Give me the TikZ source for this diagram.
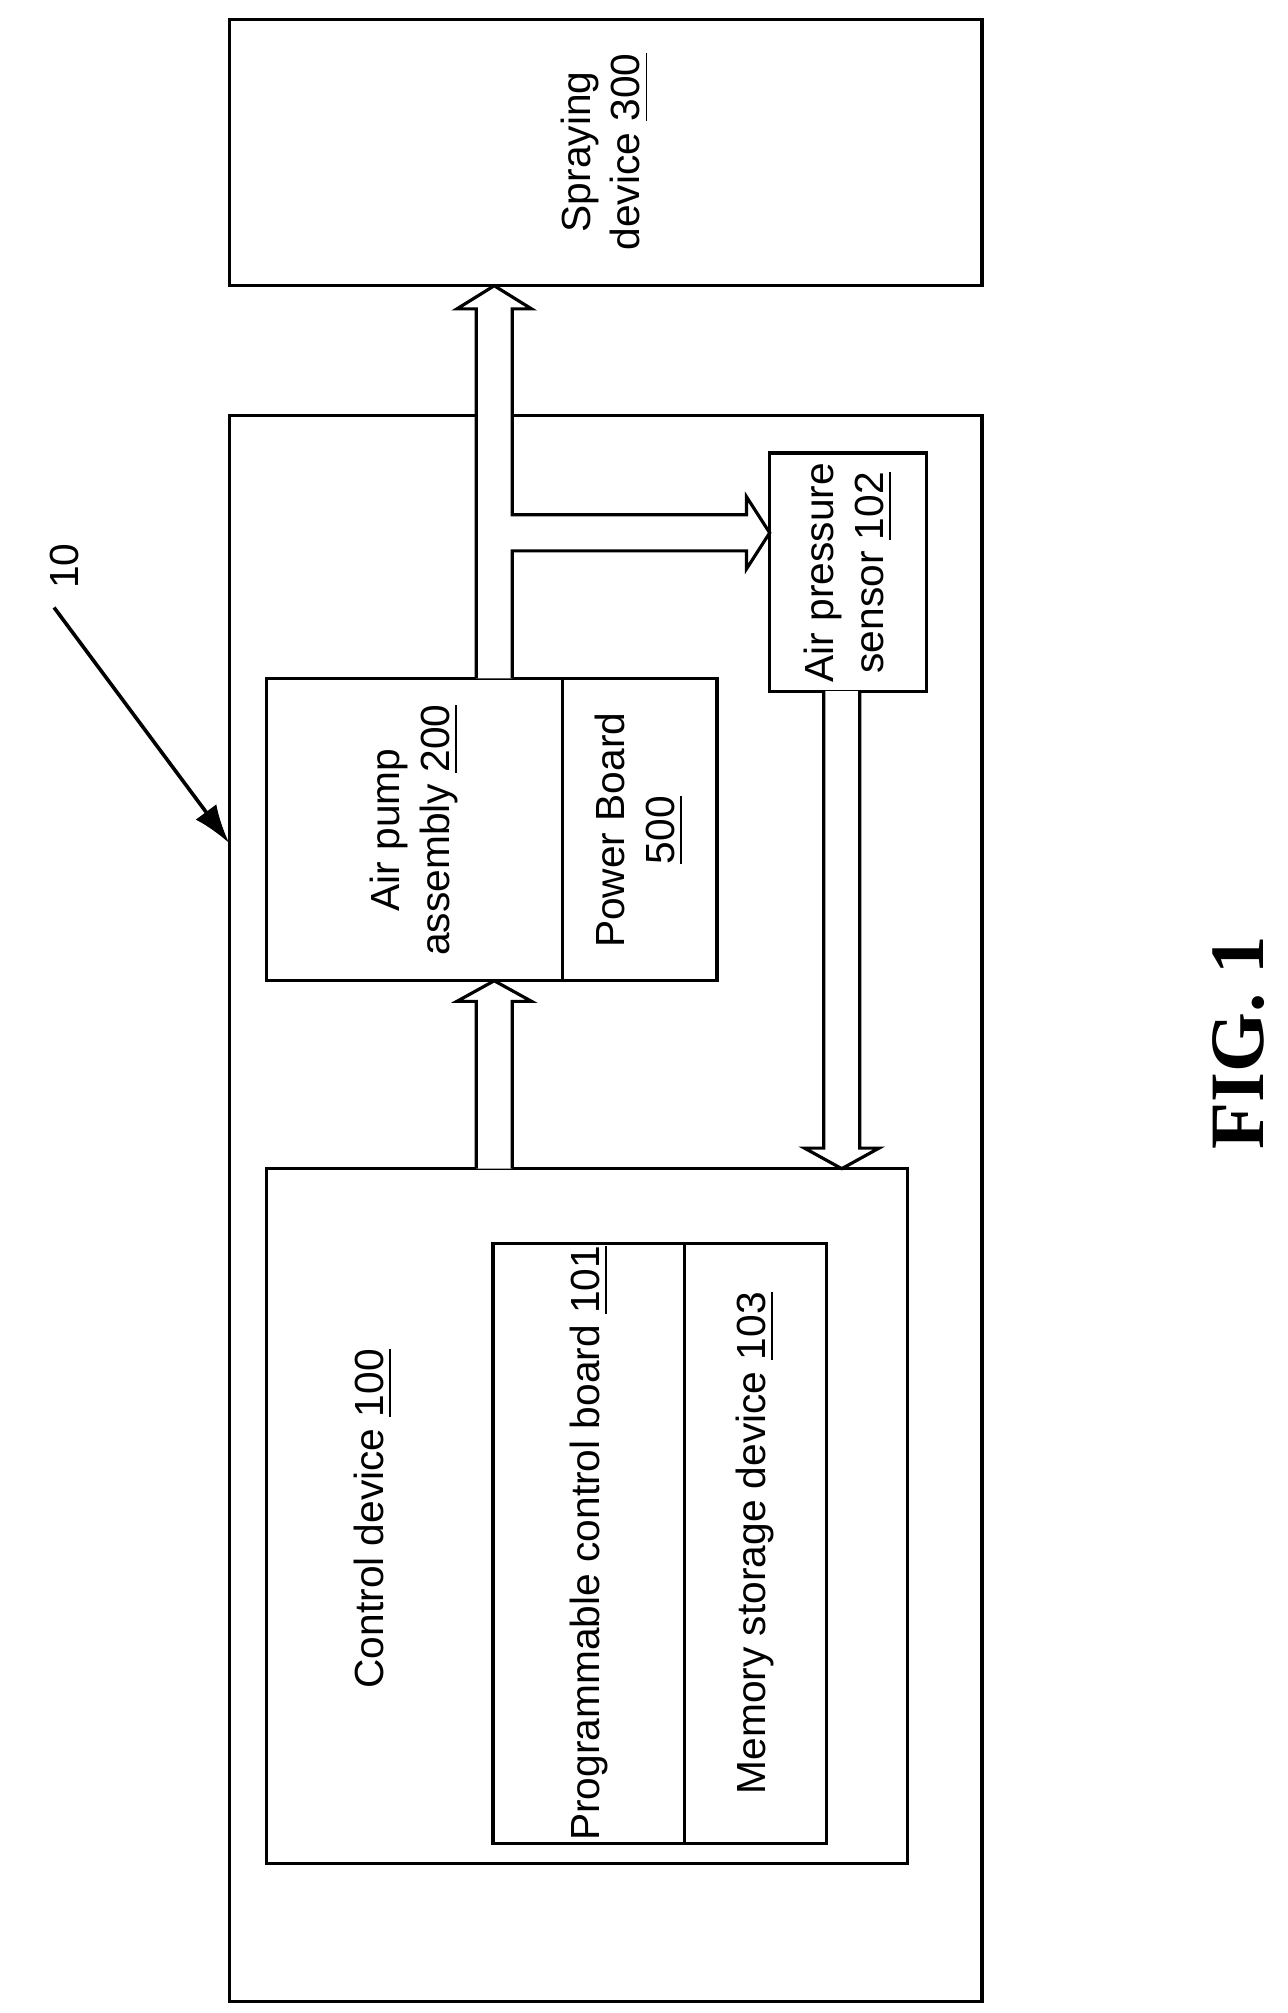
\documentclass[tikz,border=0pt]{standalone}
\usepackage{fontspec}
\usetikzlibrary{arrows.meta}
\setmainfont{Liberation Sans}
\newfontfamily\figfont{Liberation Serif}
\begin{document}
\begin{tikzpicture}[x=0.1mm,y=-0.1mm,line width=0.5pt,
  lbl/.style={rotate=90,align=center,font=\fontsize{9}{11}\selectfont},
  blk/.style={draw=black,fill=white,line width=0.7pt,line join=miter}]
\useasboundingbox (0,0) rectangle (1000,1564);
% boxes
\draw[line width=0.7pt] (178,15) rectangle (763,222);
\node[lbl] (spray) at (470,118) {Spraying\\device \underline{300}};
\draw[line width=0.7pt] (178,323) rectangle (763,1555);
\draw[line width=0.7pt] (207,527) rectangle (437,762);
\node[lbl] (pump) at (322,645) {Air pump\\assembly \underline{200}};
\draw[line width=0.7pt] (437,527) rectangle (557,762);
\node[lbl] (power) at (497,645) {Power Board\\\underline{500}};
\draw[line width=0.7pt] (598,352) rectangle (720,537);
\node[lbl] (sensor) at (659,445) {Air pressure\\sensor \underline{102}};
\draw[line width=0.7pt] (207,908) rectangle (705,1448);
\node[lbl] (ctrl) at (290,1180) {Control device \underline{100}};
\draw[line width=0.7pt] (383,966) rectangle (642,1432);
\draw[line width=0.7pt] (532,966) -- (532,1432);
\node[lbl] (pcb) at (458,1199) {Programmable control board \underline{101}};
\node[lbl] (mem) at (587,1199) {Memory storage device \underline{103}};
% block arrows
\draw[blk] (370,527) -- (370,240) -- (355,240) -- (384,222) -- (413,240) -- (398,240)
  -- (398,400) -- (580,400) -- (580,386) -- (598,414) -- (580,442) -- (580,428)
  -- (398,428) -- (398,527);
\draw[blk] (370,908) -- (370,778) -- (355,778) -- (384,762) -- (413,778) -- (398,778) -- (398,908);
\draw[blk] (640,537) -- (640,892) -- (625,892) -- (654,908) -- (683,892) -- (668,892) -- (668,537);
% label 10
\node[font=\fontsize{9}{11}\selectfont,rotate=90] (ten) at (50,440) {10};
\coordinate (tenS) at (42,472);
\coordinate (tenE) at (178,655);
\draw[line width=0.8pt,-{Latex[length=3mm,width=2mm]}] (tenS) -- (tenE);
\node[rotate=90,font=\figfont\bfseries\fontsize{17}{20}\selectfont] (fig) at (962,810) {FIG. 1};
\end{tikzpicture}
\end{document}
